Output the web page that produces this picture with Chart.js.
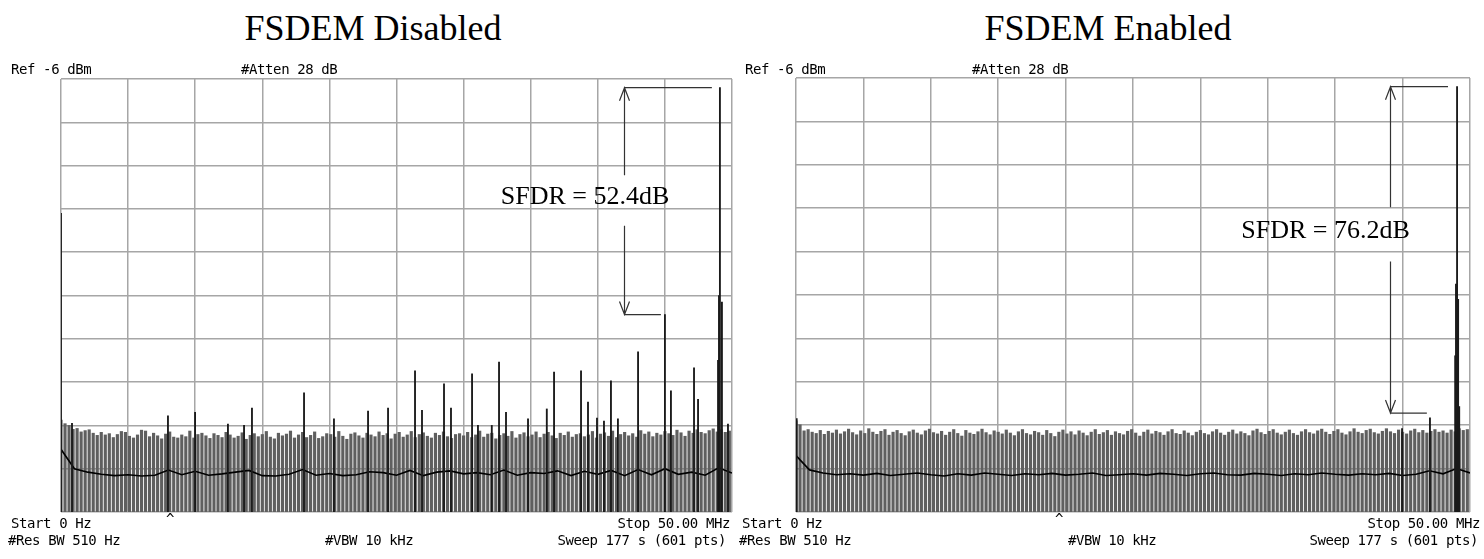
<!DOCTYPE html>
<html>
<head>
<meta charset="utf-8">
<script src="https://cdn.jsdelivr.net/npm/chart.js@4.4.0/dist/chart.umd.min.js"></script>
<style>
  body { margin: 0; background: #fff; width: 1484px; height: 559px; position: relative; overflow: hidden; }
  canvas { position: absolute; top: 0; }
  .title { position: absolute; top: 10px; font-family: "Liberation Serif", "Times New Roman", serif; font-size: 36px; line-height: 36px; transform: translateX(-50%); white-space: nowrap; }
  .lbl { position: absolute; font-family: "DejaVu Sans Mono", monospace; font-size: 14px; line-height: 14px; letter-spacing: -0.4px; white-space: nowrap; color: #000; }
</style>
</head>
<body>
<div class="title" style="left:373px">FSDEM Disabled</div>
<div class="title" style="left:1108px">FSDEM Enabled</div>

<canvas id="chartDisabled" width="742" height="559" style="left:0"></canvas>
<canvas id="chartEnabled" width="742" height="559" style="left:742px"></canvas>

<!-- analyzer annotations, left -->
<div class="lbl" style="left:11px;top:62px">Ref -6 dBm</div>
<div class="lbl" style="left:241px;top:62px">#Atten 28 dB</div>
<div class="lbl" style="left:11px;top:516px">Start 0 Hz</div>
<div class="lbl" style="left:166px;top:512px">^</div>
<div class="lbl" style="right:754px;top:516px">Stop 50.00 MHz</div>
<div class="lbl" style="left:8px;top:533px">#Res BW 510 Hz</div>
<div class="lbl" style="left:325px;top:533px">#VBW 10 kHz</div>
<div class="lbl" style="right:758px;top:533px">Sweep 177 s (601 pts)</div>

<!-- analyzer annotations, right -->
<div class="lbl" style="left:745px;top:62px">Ref -6 dBm</div>
<div class="lbl" style="left:972px;top:62px">#Atten 28 dB</div>
<div class="lbl" style="left:742px;top:516px">Start 0 Hz</div>
<div class="lbl" style="left:1055px;top:512px">^</div>
<div class="lbl" style="right:4px;top:516px">Stop 50.00 MHz</div>
<div class="lbl" style="left:739px;top:533px">#Res BW 510 Hz</div>
<div class="lbl" style="left:1068px;top:533px">#VBW 10 kHz</div>
<div class="lbl" style="right:6px;top:533px">Sweep 177 s (601 pts)</div>

<script>
// Analyzer settings (MHz / dBm)
const refLevel = -6;
const floorLevel = -106;
const gridFreqs = [0, 5, 10, 15, 20, 25, 30, 35, 40, 45, 50];
const gridLevels = [-106, -96, -86, -76, -66, -56, -46, -36, -26, -16, -6];
const noiseBinStep = 0.3;   // MHz between noise strokes
const envStep = 1;          // MHz between envelope points

// FSDEM Disabled - noise peaks (dBm)
const disNoise = [
  -84.8,-85.6,-86.0,-86.9,-86.7,-87.5,-87.2,-87.0,-87.8,-88.3,
  -87.6,-88.2,-87.9,-88.8,-88.1,-87.4,-87.6,-88.5,-88.9,-88.2,
  -87.1,-87.3,-88.6,-87.8,-88.4,-89.1,-88.0,-87.5,-88.7,-88.9,
  -88.2,-88.6,-87.3,-88.9,-88.1,-87.8,-88.4,-89.0,-87.9,-88.3,
  -88.8,-87.6,-88.2,-88.9,-88.5,-87.7,-89.2,-88.3,-87.9,-88.6,
  -88.1,-87.4,-88.7,-89.1,-87.8,-88.4,-88.0,-87.3,-88.9,-88.2,
  -87.6,-88.8,-88.3,-87.5,-89.0,-88.6,-87.9,-88.1,-88.7,-87.4,
  -88.5,-89.2,-88.0,-87.7,-88.4,-88.9,-87.8,-88.2,-88.6,-87.5,
  -88.3,-87.9,-89.1,-88.0,-87.6,-88.7,-88.2,-87.4,-88.8,-88.1,
  -87.7,-88.5,-88.9,-87.8,-88.3,-87.5,-88.6,-89.0,-88.1,-87.9,
  -88.4,-87.6,-88.8,-88.2,-87.3,-88.7,-88.0,-87.8,-89.1,-88.3,
  -87.9,-88.5,-87.4,-88.9,-88.1,-87.7,-88.6,-88.2,-87.5,-88.8,
  -88.0,-87.6,-88.4,-89.0,-87.8,-88.3,-87.5,-88.7,-88.1,-87.9,
  -88.6,-88.2,-87.4,-88.9,-88.0,-87.7,-88.5,-87.3,-88.8,-88.1,
  -87.6,-88.4,-87.9,-88.7,-87.2,-88.0,-87.5,-88.6,-87.8,-88.2,
  -87.4,-87.9,-88.3,-87.1,-87.7,-88.5,-87.3,-87.8,-87.0,-87.6,
  -87.9,-87.2,-86.8,-87.5,-87.0,-87.6,-87.3
];
// lower trace envelope (dBm), 1 MHz apart
const disEnvelope = [
  -91.5,-96.0,-96.8,-97.3,-97.6,-97.4,-97.7,-97.5,-96.3,-97.4,
  -96.6,-97.5,-97.2,-96.8,-96.4,-97.6,-97.7,-97.3,-96.2,-97.5,
  -97.1,-97.6,-97.4,-96.7,-96.9,-97.5,-96.4,-97.6,-96.8,-96.5,
  -97.2,-96.9,-97.4,-96.3,-97.5,-96.9,-97.1,-96.5,-97.6,-96.6,
  -97.3,-96.4,-97.6,-96.2,-97.4,-96.0,-97.3,-96.8,-97.5,-95.8,-97.0
];
// discrete spurs, fundamental and DC
const disSpurFreq = [0, 0.82, 7.97, 9.99, 12.44, 13.64, 14.23, 18.11, 20.34, 22.88, 24.37, 26.38, 26.9, 28.54, 29.06, 30.63, 31.07, 32.1, 32.64, 33.16, 34.8, 36.2, 36.74, 38.75, 39.27, 39.94, 40.46, 40.98, 41.5, 43.0, 45.0, 45.45, 47.17, 47.47, 48.96, 49.03, 49.1, 49.25, 49.7];
const disSpurLevel = [-37, -85.5, -83.8, -83, -85.7, -86, -82, -78.5, -84.5, -82.7, -82, -73.4, -82.5, -76.4, -82, -74.1, -86, -86, -71.4, -83, -84.5, -82.2, -73.7, -73.4, -80.6, -84.3, -85, -75.7, -84.5, -69, -60.4, -78, -72.7, -80, -71, -56, -8, -57.5, -85.7];

// FSDEM Enabled - noise peaks (dBm)
const enaNoise = [
  -85.0,-85.9,-87.3,-87.0,-87.6,-87.9,-87.2,-88.1,-87.4,-87.8,
  -87.1,-88.0,-87.5,-86.9,-87.7,-88.2,-87.3,-87.9,-86.8,-87.6,
  -88.1,-87.4,-87.0,-88.3,-87.6,-87.2,-87.9,-88.4,-87.5,-87.1,
  -87.8,-88.2,-87.3,-86.9,-87.7,-88.0,-87.4,-88.3,-87.6,-87.0,
  -87.9,-88.5,-87.2,-87.8,-88.1,-87.5,-86.9,-87.7,-88.2,-87.3,
  -87.6,-88.0,-87.1,-87.8,-88.4,-87.5,-87.0,-87.9,-88.2,-87.4,
  -87.7,-88.3,-87.2,-87.9,-88.6,-87.6,-87.1,-88.0,-87.5,-88.2,
  -87.3,-87.8,-88.4,-87.6,-87.0,-88.1,-87.7,-87.2,-88.3,-87.5,
  -87.9,-88.2,-87.4,-87.0,-87.8,-88.5,-87.6,-87.1,-88.0,-87.4,
  -87.7,-88.3,-87.5,-87.0,-87.9,-88.1,-87.3,-87.8,-88.4,-87.6,
  -87.2,-87.9,-88.2,-87.5,-87.0,-87.8,-88.3,-87.6,-87.1,-88.0,
  -87.5,-87.9,-88.4,-87.3,-86.9,-87.7,-88.1,-87.4,-87.0,-87.8,
  -88.2,-87.6,-87.1,-87.9,-88.3,-87.5,-87.0,-87.7,-88.0,-87.3,
  -86.9,-87.6,-88.1,-87.4,-87.0,-87.8,-88.2,-87.5,-86.8,-87.6,
  -87.9,-87.2,-86.9,-87.7,-88.0,-87.4,-86.8,-87.5,-87.9,-87.1,
  -87.6,-88.0,-87.3,-86.9,-87.7,-87.2,-87.8,-87.4,-87.0,-87.6,
  -87.3,-87.8,-87.1,-87.5,-86.8,-87.2,-87.0
];
const enaEnvelope = [
  -93.0,-96.3,-97.0,-97.4,-97.2,-97.5,-97.1,-97.6,-97.3,-97.0,
  -97.4,-97.7,-97.2,-97.5,-97.0,-97.3,-97.6,-97.2,-97.4,-97.1,
  -97.5,-97.3,-97.0,-97.6,-97.4,-97.2,-97.5,-97.1,-97.3,-97.6,
  -97.2,-97.0,-97.4,-97.5,-97.1,-97.3,-97.6,-97.2,-97.4,-97.0,
  -97.3,-97.5,-97.2,-97.4,-97.1,-97.6,-97.3,-96.5,-97.2,-96.0,-97.0
];
const enaSpurFreq = [0.05, 44.96, 47.03, 48.9, 48.96, 49.04, 49.12, 49.2];
const enaSpurLevel = [-84.5, -86.8, -84.3, -70, -53.5, -8, -57, -81.7];

// SFDR bracket + label
const sfdrPlugin = {
    id: "sfdr",
    afterDatasetsDraw(chart, args, o) {
        const { ctx, scales: { x, y } } = chart;
        const ax = Math.round(x.getPixelForValue(o.arrowFreq)) + 0.5;
        const yTop = y.getPixelForValue(o.topLevel);
        const yBot = y.getPixelForValue(o.botLevel);
        ctx.save();
        ctx.strokeStyle = "#333";
        ctx.lineWidth = 1.2;
        ctx.beginPath();
        ctx.moveTo(x.getPixelForValue(o.topEnd), yTop);
        ctx.lineTo(ax, yTop);
        ctx.lineTo(ax, y.getPixelForValue(o.gapTop));
        ctx.moveTo(ax, y.getPixelForValue(o.gapBot));
        ctx.lineTo(ax, yBot);
        ctx.lineTo(x.getPixelForValue(o.botEnd), yBot);
        ctx.moveTo(ax - 5, yTop + 13); ctx.lineTo(ax, yTop); ctx.lineTo(ax + 5, yTop + 13);
        ctx.moveTo(ax - 5, yBot - 13); ctx.lineTo(ax, yBot); ctx.lineTo(ax + 5, yBot - 13);
        ctx.stroke();
        ctx.fillStyle = "#000";
        ctx.font = '26px "Liberation Serif", "Times New Roman", serif';
        ctx.textAlign = "center";
        ctx.textBaseline = "middle";
        ctx.fillText(o.label, x.getPixelForValue(o.labelFreq), y.getPixelForValue(o.labelLevel));
        ctx.restore();
    }
};

function axisOpts(min, max, ticks) {
    return {
        type: "linear", min: min, max: max, offset: false,
        ticks: { display: false },
        afterBuildTicks: s => { s.ticks = ticks.map(v => ({ value: v })); },
        grid: { color: "#a6a6a6", lineWidth: 1.5, drawTicks: false, offset: false },
        border: { display: false }
    };
}

function createSpectrum(id, noise, env, spurF, spurL, sfdr, pad) {
    const ctx = document.getElementById(id).getContext("2d");
    return new Chart(ctx, {
        type: "bar",
        data: {
            datasets: [
                {
                    type: "bar",
                    data: noise.map((v, i) => ({ x: i * noiseBinStep, y: [floorLevel, v] })),
                    backgroundColor: "#5f5f5f",
                    barThickness: 2.5,
                    grouped: false,
                    order: 3
                },
                {
                    type: "line",
                    data: env.map((v, i) => ({ x: i * envStep, y: v })),
                    borderColor: "#000",
                    borderWidth: 1.6,
                    pointRadius: 0,
                    tension: 0,
                    order: 2
                },
                {
                    type: "bar",
                    data: spurF.map((f, i) => ({ x: f, y: [floorLevel, spurL[i]] })),
                    backgroundColor: "#1a1a1a",
                    barThickness: 1.2,
                    grouped: false,
                    order: 1
                }
            ]
        },
        options: {
            responsive: false,
            animation: false,
            devicePixelRatio: 1,
            layout: { padding: pad },
            plugins: { legend: { display: false }, tooltip: { enabled: false }, sfdr: sfdr },
            scales: {
                x: axisOpts(0, 50, gridFreqs),
                y: axisOpts(floorLevel, refLevel, gridLevels)
            }
        },
        plugins: [sfdrPlugin]
    });
}

createSpectrum("chartDisabled", disNoise, disEnvelope, disSpurFreq, disSpurLevel, {
    arrowFreq: 41.95, topEnd: 48.5, botEnd: 44.7,
    topLevel: -8, botLevel: -60.4, gapTop: -28.2, gapBot: -39.9,
    label: "SFDR = 52.4dB", labelFreq: 39.05, labelLevel: -33.3
}, { left: 61, right: 10, top: 79, bottom: 47 });

createSpectrum("chartEnabled", enaNoise, enaEnvelope, enaSpurFreq, enaSpurLevel, {
    arrowFreq: 44.07, topEnd: 48.37, botEnd: 46.8,
    topLevel: -8, botLevel: -83.2, gapTop: -35.8, gapBot: -48.3,
    label: "SFDR = 76.2dB", labelFreq: 39.28, labelLevel: -41.3
}, { left: 54, right: 14, top: 78, bottom: 47 });
</script>
</body>
</html>
